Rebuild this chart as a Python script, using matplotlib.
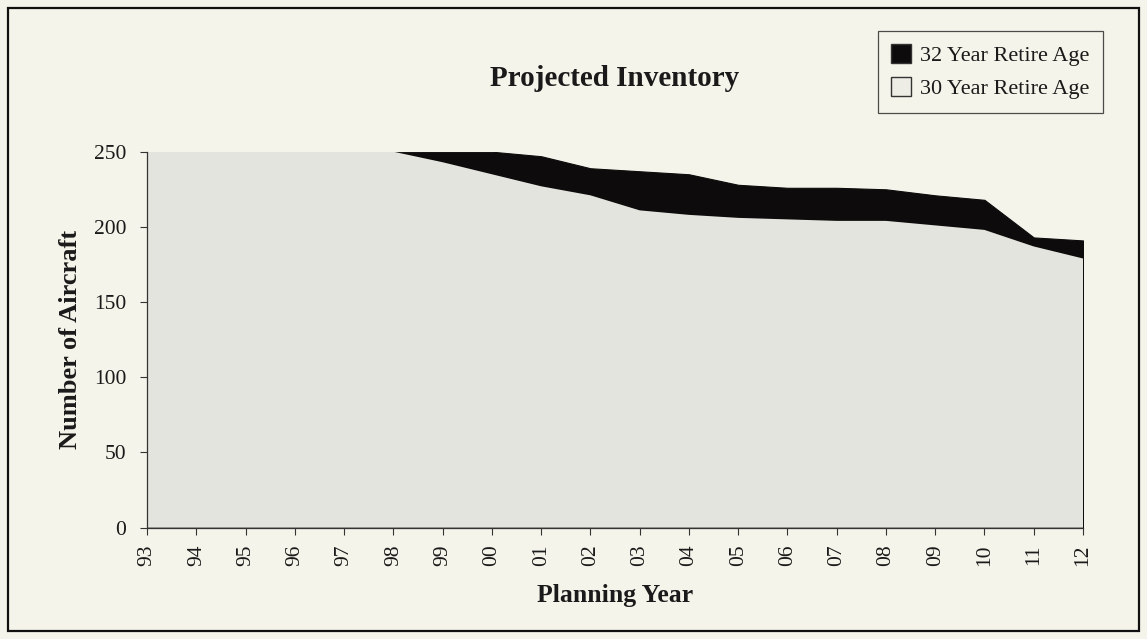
import matplotlib
matplotlib.use("Agg")
import matplotlib.pyplot as plt
from matplotlib.patches import Patch, Rectangle
import numpy as np

years = ["93", "94", "95", "96", "97", "98", "99", "00", "01", "02",
         "03", "04", "05", "06", "07", "08", "09", "10", "11", "12"]
retire_32 = [250, 250, 250, 250, 250, 250, 250, 250, 247, 239,
             237, 235, 228, 226, 226, 225, 221, 218, 193, 191]
retire_30 = [250, 250, 250, 250, 250, 250, 243, 235, 227, 221,
             211, 208, 206, 205, 204, 204, 201, 198, 187, 179]
y_ticks = [0, 50, 100, 150, 200, 250]

plt.rcParams['font.family'] = ['Liberation Serif', 'DejaVu Serif']

bg = "#F4F4EA"
gray = "#E4E4DE"

fig = plt.figure(figsize=(11.47, 6.39), dpi=100, facecolor=bg)
ax = fig.add_axes([0.1282, 0.1742, 0.9442 - 0.1282, 0.7626 - 0.1742])
ax.set_facecolor(bg)

x = np.arange(len(years))
ax.fill_between(x, 0, retire_32, facecolor="#0d0b0b", edgecolor="#0d0b0b", linewidth=0.8, zorder=2)
ax.fill_between(x, 0, retire_30, facecolor=gray, edgecolor="none", linewidth=0, zorder=3)

ax.set_xlim(0, len(years) - 1)
ax.set_ylim(0, 250)
ax.set_xticks(x)
ax.set_xticklabels(years, rotation=90, fontsize=15.5, color="#1a1a1a")
ax.set_yticks(y_ticks)
ax.set_yticklabels([str(v) for v in y_ticks], fontsize=15.5, color="#1a1a1a")
ax.tick_params(axis='both', direction='out', length=5, width=0.8, color="#333333")
ax.tick_params(axis='x', pad=7)
ax.tick_params(axis='y', pad=10)

for s in ["top", "right"]:
    ax.spines[s].set_visible(False)
for s in ["left", "bottom"]:
    ax.spines[s].set_color("#333333")
    ax.spines[s].set_linewidth(0.9)
    ax.spines[s].set_zorder(5)

ax.set_xlabel("Planning Year", fontsize=18.5, fontweight="bold", color="#1a1a1a")
ax.xaxis.set_label_coords(0.5, -0.15)
ax.set_ylabel("Number of Aircraft", fontsize=19, fontweight="bold", color="#1a1a1a")
ax.yaxis.set_label_coords(-0.069, 0.5)

fig.text(615 / 1147, 1 - 78 / 639, "Projected Inventory", ha="center", va="center",
         fontsize=21, fontweight="bold", color="#1a1a1a")

handles = [Patch(facecolor="#0d0b0b", edgecolor="#333333", label="32 Year Retire Age"),
           Patch(facecolor="#EDEDE6", edgecolor="#333333", label="30 Year Retire Age")]
leg = fig.legend(handles=handles, loc="upper right", bbox_to_anchor=(0.9617, 0.9515),
                 bbox_transform=fig.transFigure, borderaxespad=0, fontsize=16,
                 frameon=True, fancybox=False, handlelength=0.9, handleheight=0.9,
                 handletextpad=0.4, labelspacing=0.5, borderpad=0.6)
leg.get_frame().set_edgecolor("#222222")
leg.get_frame().set_linewidth(0.9)
leg.get_frame().set_facecolor(bg)
for t in leg.get_texts():
    t.set_color("#1a1a1a")

fig.patches.append(Rectangle((8 / 1147, 8 / 639), (1139 - 8) / 1147, (631 - 8) / 639,
                             transform=fig.transFigure, fill=False,
                             edgecolor="#111111", linewidth=1.6))

fig.savefig("out.png", dpi=100, facecolor=bg)
